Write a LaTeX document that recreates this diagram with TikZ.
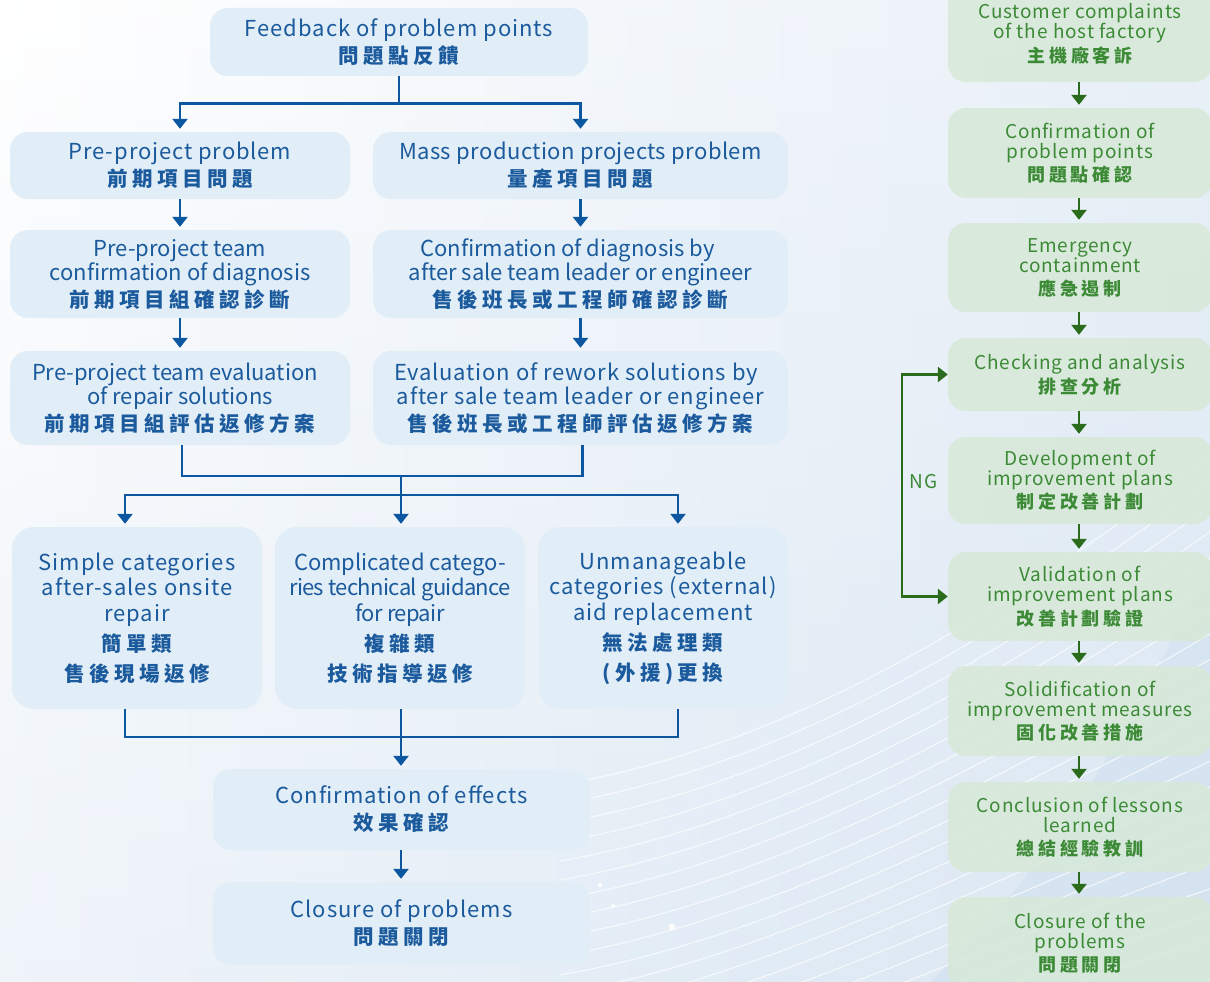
\documentclass[tikz,border=0pt]{standalone}
\usepackage{fontspec}
\usetikzlibrary{arrows.meta,calc}
\setmainfont{Noto Sans CJK TC}
\newfontfamily\latn{Noto Sans CJK TC}
\newfontfamily\latc{Noto Sans CJK TC}[LetterSpace=-3]
\newfontfamily\cjk{Noto Sans CJK TC}[LetterSpace=22]
\newcommand{\lw}[2]{{\latn\addfontfeatures{LetterSpace=#1}#2}}
\newcommand{\lt}[1]{\lw{4.5}{#1}}
\definecolor{bt}{HTML}{1B5A9C}
\definecolor{ba}{HTML}{0D56A0}
\definecolor{bf}{HTML}{E1EEF8}
\definecolor{gt}{HTML}{3C8A36}
\definecolor{ga}{HTML}{2A6C1C}
\definecolor{gf}{HTML}{D7E9D8}
\definecolor{bgb}{HTML}{D2E1F0}
\tikzset{
  bbox/.style={fill=bf, rounded corners=18pt, text=bt, align=center, inner sep=0pt,
    font=\fontsize{22}{24}\selectfont},
  gbox/.style={fill=gf, fill opacity=0.85, text opacity=1, rounded corners=18pt, text=gt,
    align=center, inner sep=0pt, minimum width=264pt, font=\fontsize{19}{20}\selectfont},
  bline/.style={draw=ba, line width=2.6pt},
  barr/.style={bline, -{Triangle[width=15pt,length=10pt]}, shorten >=3pt},
  gline/.style={draw=ga, line width=2.6pt},
  garr/.style={gline, -{Triangle[width=15pt,length=10pt]}, shorten >=3pt},
  bgline/.style={white, line width=1pt, opacity=0.75}
}
\newcommand{\cj}[1]{{\fontsize{20.5}{24}\cjk\bfseries #1}}
\newcommand{\cjg}[1]{{\fontsize{18}{20}\cjk\bfseries #1}}
\begin{document}
\begin{tikzpicture}[x=1pt,y=-1pt]
\useasboundingbox (0,0) rectangle (1210,982);
\begin{scope}
\clip (0,0) rectangle (1210,982);
\shade[left color=white, right color=bgb!75] (0,0) rectangle (1210,982);
\shade[top color=white, bottom color=bgb, opacity=0.35] (0,0) rectangle (1210,982);
\fill[bgb, opacity=0.6] (1210,560) .. controls (1120,760) and (1020,900) .. (930,982) -- (1210,982) -- cycle;
\foreach \i in {0,...,19}{
  \draw[bgline] (560,{785+19*\i}) .. controls (760,{750+19*\i}) and (960,{650+19*\i}) .. (1230,{440+26*\i});
}
\fill[white, opacity=0.8] (600,885) circle (2.5) (613,906) circle (2) (672,927) circle (3.5);
\end{scope}

% ---------- blue flow ----------
\node[bbox, minimum width=378pt, minimum height=68pt] (fb) at (399,42)
  {\lt{Feedback of problem points}\\[3pt]\cj{問題點反饋}};
\node[bbox, minimum width=340pt, minimum height=67pt] (pp) at (180,165.5)
  {\lw{4}{Pre-project problem}\\[3pt]\cj{前期項目問題}};
\node[bbox, minimum width=415pt, minimum height=67pt] (mp) at (580.5,165.5)
  {\lw{2}{Mass production projects problem}\\[3pt]\cj{量產項目問題}};
\node[bbox, minimum width=340pt, minimum height=88pt] (pc) at (180,274)
  {{\latn Pre-project team}\\{\latn confirmation of diagnosis}\\[3pt]\cj{前期項目組確認診斷}};
\node[bbox, minimum width=415pt, minimum height=88pt] (mc) at (580.5,274)
  {{\latn Confirmation of diagnosis by}\hspace*{26pt}\\{\latn after sale team leader or engineer}\hspace*{22pt}\\[3pt]\cj{售後班長或工程師確認診斷}};
\node[bbox, minimum width=340pt, minimum height=94pt] (pe) at (180,398)
  {{\latn Pre-project team evaluation}\hspace*{10pt}\\{\latn of repair solutions}\hspace*{4pt}\\[3pt]\cj{前期項目組評估返修方案}};
\node[bbox, minimum width=415pt, minimum height=94pt] (me) at (580.5,398)
  {\lw{3.7}{Evaluation of rework solutions by}\hspace*{9pt}\\\lw{3.8}{after sale team leader or engineer}\hspace*{9pt}\\[3pt]\cj{售後班長或工程師評估返修方案}};
\node[bbox, font=\fontsize{22}{25.5}\selectfont, rounded corners=22pt, minimum width=250pt, minimum height=182pt] (c1) at (137,618)
  {\lt{Simple categories}\\\lt{after-sales onsite}\\\lt{repair}\\[5pt]\cj{簡單類}\\[4pt]\cj{售後現場返修}};
\node[bbox, font=\fontsize{22}{25.5}\selectfont, rounded corners=22pt, minimum width=250pt, minimum height=182pt] (c2) at (400,618)
  {{\latn Complicated catego-}\\{\latc ries technical guidance}\\{\latc for repair}\\[5pt]\cj{複雜類}\\[4pt]\cj{技術指導返修}};
\node[bbox, font=\fontsize{22}{25.5}\selectfont, rounded corners=22pt, minimum width=250pt, minimum height=182pt] (c3) at (663,618)
  {\lt{Unmanageable}\\\lt{categories (external)}\\\lt{aid replacement}\\[5pt]\cj{無法處理類}\\[4pt]\cj{(外援)更換}};
\node[bbox, minimum width=377pt, minimum height=81pt] (ce) at (401.5,809.5)
  {\lt{Confirmation of effects}\\[3pt]\cj{效果確認}};
\node[bbox, minimum width=377pt, minimum height=83pt] (cl) at (401.5,923.5)
  {\lt{Closure of problems}\\[3pt]\cj{問題關閉}};

\draw[barr] (fb.south) -- ++(0,27) -| (pp.north);
\draw[barr] (fb.south) -- ++(0,27) -| (mp.north);
\draw[barr] (pp) -- (pc);
\draw[barr] (mp) -- (mc);
\draw[barr] (pc) -- (pe);
\draw[barr] (mc) -- (me);
\coordinate (j1) at (401,476);
\coordinate (j2) at (401,495);
\coordinate (j3) at (401,737);
\draw[bline] ([xshift=2pt]pe.south) |- (j1) -| ([xshift=2pt]me.south);
\draw[bline] (j1) -- (j2);
\draw[barr] (j2) -| ([xshift=-12pt]c1.north);
\draw[barr] (j2) -- (c2.north -| j2);
\draw[barr] (j2) -| ([xshift=15pt]c3.north);
\draw[bline] ([xshift=-12pt]c1.south) |- (j3) -| ([xshift=15pt]c3.south);
\draw[bline] (c2.south -| j3) -- (j3);
\draw[barr] (j3) -- (ce.north -| j3);
\draw[barr] (ce.south -| j3) -- (cl.north -| j3);

% ---------- green flow ----------
\node[gbox, minimum height=96pt] (g1) at (1080,34)
  {\lt{Customer complaints}\\\lt{of the host factory}\\[3pt]\cjg{主機廠客訴}};
\node[gbox, minimum height=90pt] (g2) at (1080,153)
  {\lt{Confirmation of}\\\lt{problem points}\\[3pt]\cjg{問題點確認}};
\node[gbox, minimum height=89pt] (g3) at (1080,267.5)
  {\lt{Emergency}\\\lt{containment}\\[3pt]\cjg{應急遏制}};
\node[gbox, minimum height=73pt] (g4) at (1080,374.5)
  {\lt{Checking and analysis}\\[3pt]\cjg{排查分析}};
\node[gbox, minimum height=87pt] (g5) at (1080,480.5)
  {\lt{Development of}\\\lt{improvement plans}\\[3pt]\cjg{制定改善計劃}};
\node[gbox, minimum height=89pt] (g6) at (1080,596.5)
  {\lt{Validation of}\\\lt{improvement plans}\\[3pt]\cjg{改善計劃驗證}};
\node[gbox, minimum height=90pt] (g7) at (1080,711)
  {\lt{Solidification of}\\\lt{improvement measures}\\[3pt]\cjg{固化改善措施}};
\node[gbox, minimum height=90pt] (g8) at (1080,827)
  {\lt{Conclusion of lessons}\\\lt{learned}\\[3pt]\cjg{總結經驗教訓}};
\node[gbox, minimum height=93pt] (g9) at (1080,943.5)
  {\lt{Closure of the}\\\lt{problems}\\[3pt]\cjg{問題關閉}};

\foreach \a/\b in {g1/g2,g2/g3,g3/g4,g4/g5,g5/g6,g6/g7,g7/g8,g8/g9}{
  \draw[garr] ([xshift=-1pt]\a.south) -- ([xshift=-1pt]\b.north);
}
\coordinate (ngt) at (902,374.5);
\coordinate (ngb) at (902,596.5);
\draw[gline, {Triangle[width=15pt,length=10pt]}-{Triangle[width=15pt,length=10pt]}]
  (g4.west) -- (ngt) -- (ngb) -- (g6.west);
\node[text=gt, font=\fontsize{19}{20}\selectfont, anchor=west] (ng) at (906,482) {\lt{NG}};
\end{tikzpicture}
\end{document}
